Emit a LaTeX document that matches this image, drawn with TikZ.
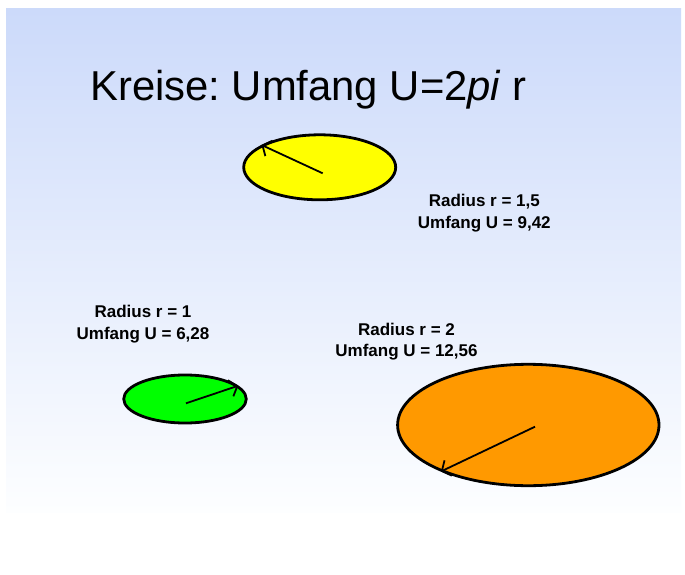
\documentclass[tikz,border=0pt]{standalone}
\usepackage{fontspec}
\setmainfont{Liberation Sans}
\usetikzlibrary{shapes.geometric,arrows.meta}
\definecolor{bgtop}{RGB}{204,218,250}
\definecolor{bgbottom}{RGB}{253,254,255}
\definecolor{discorange}{RGB}{255,153,0}
\definecolor{discgreen}{RGB}{0,255,0}
\definecolor{discyellow}{RGB}{255,255,0}
\frenchspacing
\tikzset{
  disc/.style={ellipse, draw=black, line width=2.8pt, inner sep=0pt},
  radius arrow/.style={line width=1.8pt, -{Straight Barb[length=7pt,width=17pt,line width=1.8pt]}},
  caption/.style={font=\bfseries\fontsize{17}{21.6}\selectfont, align=center, inner sep=0pt},
  heading/.style={font=\fontsize{41.8}{50}\selectfont, inner sep=0pt}
}
\begin{document}
\begin{tikzpicture}[x=1pt,y=-1pt]
\useasboundingbox (0,0) rectangle (685,575);
\fill[white] (0,0) rectangle (685,575);
\shade[top color=bgtop, bottom color=bgbottom] (6,9) rectangle (681,512);

% title
\node[heading, anchor=base west] (title) at (90,100.7) {Kreise: Umfang U=2\textit{pi} r};

% circles drawn in perspective
\node[disc, fill=discyellow, minimum width=152pt, minimum height=65pt] (yel) at (319.7,167.3) {};
\node[disc, fill=discgreen, minimum width=122.6pt, minimum height=48pt] (grn) at (185,399) {};
\node[disc, fill=discorange, minimum width=261.4pt, minimum height=121.4pt] (org) at (528.3,425) {};

% radius arrows
\coordinate (yelc) at (322.7,173.3);
\coordinate (grnc) at (186,403.3);
\coordinate (orgc) at (535,426.7);
\draw[radius arrow] (yelc) -- (yel.159);
\draw[radius arrow] (grnc) -- (grn.14);
\draw[radius arrow] (orgc) -- (org.208.8);

% captions (anchored at the baseline of the second line)
\node[caption, anchor=base] (capyel) at (484.3,228.3) {Radius r = 1,5\\Umfang U = 9,42};
\node[caption, anchor=base] (capgrn) at (143,339.3) {Radius r = 1\\Umfang U = 6,28};
\node[caption, anchor=base] (caporg) at (406.5,356.6) {Radius r = 2\\Umfang U = 12,56};
\end{tikzpicture}
\end{document}
